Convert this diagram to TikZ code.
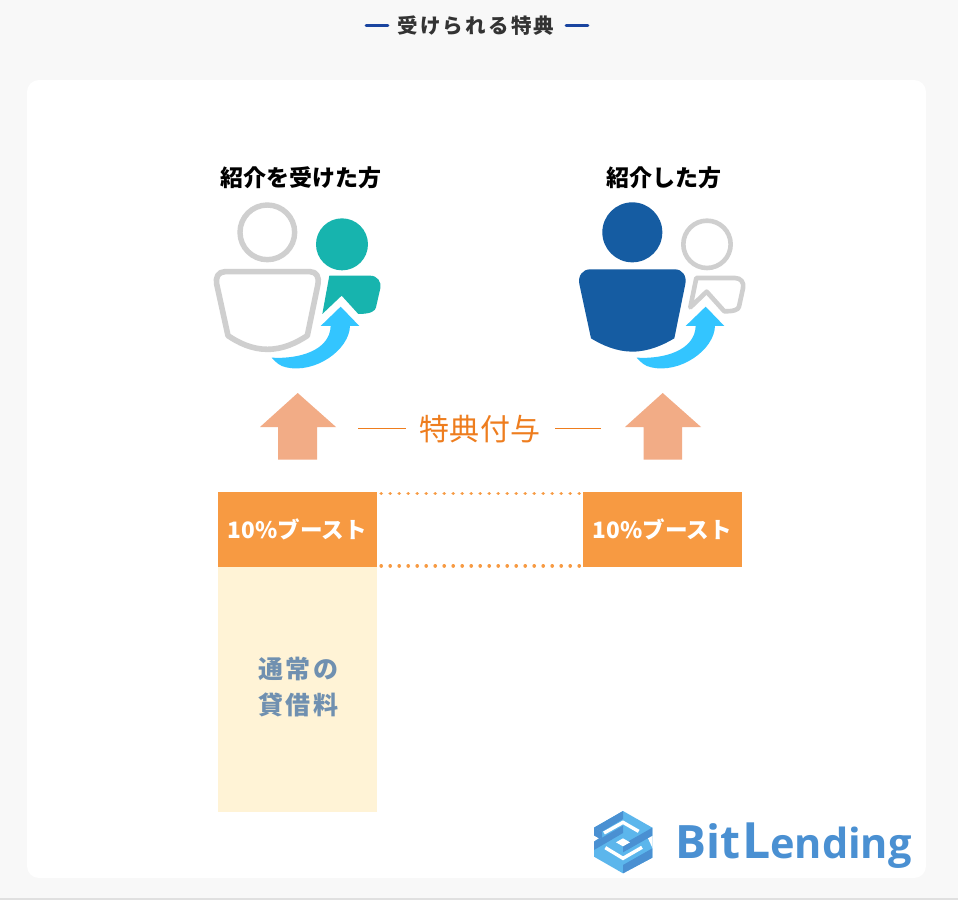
\documentclass[tikz,border=0pt]{standalone}
\usepackage{fontspec}
\setmainfont{Noto Sans CJK JP}
\newfontfamily\logofont{Open Sans}
\definecolor{pagebg}{HTML}{F8F8F8}
\definecolor{titlec}{HTML}{333333}
\definecolor{titleblue}{HTML}{1A45A0}
\definecolor{greyline}{HTML}{CFCFCF}
\definecolor{teal}{HTML}{17B4AE}
\definecolor{navy}{HTML}{155CA2}
\definecolor{sky}{HTML}{33C5FF}
\definecolor{peach}{HTML}{F2AC86}
\definecolor{orangetext}{HTML}{EE7D1E}
\definecolor{boost}{HTML}{F79A42}
\definecolor{cream}{HTML}{FFF3D6}
\definecolor{slate}{HTML}{7090B0}
\definecolor{logod}{HTML}{4A90D2}
\definecolor{logol}{HTML}{5CB6EC}
\tikzset{
  x=1pt,y=-1pt,
  lab/.style={inner sep=0pt,font=\bfseries\fontsize{23}{26}\selectfont,text=black},
  boostbox/.style={fill=boost,draw=none,inner sep=0pt,minimum width=159pt,minimum height=75pt,text=white,font=\bfseries\fontsize{22.6}{26}\selectfont},
  upper/.style={fill=peach,draw=none},
  dotline/.style={draw=boost,line width=3.6pt,line cap=round,dash pattern=on 0.01pt off 8.99pt},
  rule/.style={draw=orangetext,line width=0.8pt},
  ic/.style={x=0.3333pt,y=-0.3333pt},
}
\newcommand{\bodypath}{(75,245) -- (330,245) .. controls (350,245) and (358,262) .. (354,282) -- (322,437) .. controls (290,458) and (250,478) .. (202,478) .. controls (155,478) and (115,458) .. (84,437) -- (50,282) .. controls (46,262) and (55,245) .. (75,245) -- cycle}
\newcommand{\bodyfill}{(75,238) -- (330,238) .. controls (352,238) and (366,258) .. (361,282) -- (328,445) .. controls (295,465) and (250,485) .. (202,485) .. controls (155,485) and (110,465) .. (78,445) -- (43,282) .. controls (38,258) and (53,238) .. (75,238) -- cycle}
\newcommand{\smallfill}{(388,257) -- (510,257) .. controls (532,257) and (545,275) .. (541,295) -- (528,352) .. controls (526,362) and (515,372) .. (475,372) -- (425,317) -- (367,372) -- cycle}
\newcommand{\smallline}{(394,264) -- (510,264) .. controls (528,264) and (538,278) .. (534,295) -- (522,350) .. controls (520,360) and (505,364) .. (478,364) -- (425,305) -- (376,352) -- cycle}
\newcommand{\bluearrow}{(422,350) -- (478,408) -- (450,408) .. controls (448,480) and (345,552) .. (258,532) .. controls (240,528) and (228,518) .. (215,503) .. controls (300,508) and (390,480) .. (392,408) -- (362,408) -- cycle}
\begin{document}
\begin{tikzpicture}
\useasboundingbox (0,0) rectangle (958,900);
\fill[pagebg] (0,0) rectangle (958,900);
\fill[black!12] (0,898) rectangle (958,900);
\fill[white,rounded corners=12pt] (27,80) rectangle (926,878);
% title
\node[inner sep=0pt,text=titlec,font=\bfseries\fontsize{20.5}{24}\selectfont\addfontfeature{LetterSpace=11}] (title) at (476,26) {受けられる特典};
\coordinate (tl1) at (366,25.5); \coordinate (tl2) at (388,25.5);
\coordinate (tr1) at (566,25.5); \coordinate (tr2) at (588,25.5);
\draw[titleblue,line width=2.6pt,line cap=round] (tl1) -- (tl2);
\draw[titleblue,line width=2.6pt,line cap=round] (tr1) -- (tr2);
% labels
\node[lab] (lbl1) at (300.5,178) {紹介を受けた方};
\node[lab] (lbl2) at (663.5,178) {紹介した方};
% left icon
\begin{scope}[shift={(200,190)},ic]
  \draw[greyline,line width=5.4pt] (202,127) circle[radius=82];
  \draw[greyline,line width=5.6pt,line join=round] \bodypath;
  \fill[teal] (426,163) circle[radius=78];
  \fill[teal] \smallfill;
  \fill[sky] \bluearrow;
\end{scope}
% right icon
\begin{scope}[shift={(565,190)},ic]
  \fill[navy] (202,127) circle[radius=90];
  \fill[navy] \bodyfill;
  \draw[greyline,line width=4.6pt] (426,163) circle[radius=71];
  \draw[greyline,line width=4.6pt,line join=round] \smallline;
  \fill[sky] \bluearrow;
\end{scope}
% arrows
\fill[upper] (297.7,393) -- (336,427) -- (317,427) -- (317,459.5) -- (278,459.5) -- (278,427) -- (260,427) -- cycle;
\fill[upper] (662.7,393) -- (701,427) -- (682,427) -- (682,459.5) -- (643.5,459.5) -- (643.5,427) -- (625,427) -- cycle;
\node[inner sep=0pt,text=orangetext,font=\fontsize{30}{32}\selectfont\addfontfeature{LetterSpace=2}] (grant) at (480,429) {特典付与};
\coordinate (r1a) at (358,428.5); \coordinate (r1b) at (406,428.5);
\coordinate (r2a) at (555,428.5); \coordinate (r2b) at (601,428.5);
\draw[rule] (r1a) -- (r1b);
\draw[rule] (r2a) -- (r2b);
% bars
\node[fill=cream,inner sep=0pt,minimum width=159pt,minimum height=245pt,anchor=north west] (base) at (218,567) {};
\node[boostbox] (b1) at (297.5,529.5) {10\%ブースト};
\node[boostbox] (b2) at (662.5,529.5) {10\%ブースト};
\draw[dotline] (b1.north east) ++(4,1.5) -- ([xshift=-1pt,yshift=-1.5pt]b2.north west);
\draw[dotline] (b1.south east) ++(4,-1.5) -- ([xshift=-1pt,yshift=1.5pt]b2.south west);
\node[inner sep=0pt,text=slate,font=\bfseries\fontsize{25}{36}\selectfont\addfontfeature{LetterSpace=10},align=center] (rate) at (298,687) {通常の\\貸借料};
% logo
\begin{scope}[shift={(588,805)},x=0.3333pt,y=-0.3333pt]
  \fill[logol] (105,18) -- (193,68) -- (193,158) -- (105,205) -- (18,155) -- (18,68) -- cycle;
  \fill[logod] (105,18) -- (105,42) -- (42,80) -- (18,68) -- cycle;
  \fill[logod] (18,68) -- (42,80) -- (42,98) -- (18,112) -- cycle;
  \fill[logod] (18,112) -- (105,62) -- (105,84) -- (18,135) -- cycle;
  \fill[logod] (193,68) -- (193,92) -- (105,142) -- (105,118) -- cycle;
  \fill[logod] (105,180) -- (193,130) -- (193,158) -- (105,205) -- cycle;
  \draw[white,line width=3.4pt] (48,84) -- (105,52) -- (152,79);
  \draw[white,line width=3.4pt] (52,128) -- (105,160) -- (162,127);
  \fill[white] (84,112) -- (105,100) -- (126,112) -- (105,124) -- cycle;
  \fill[white] (18,92) -- (32,100) -- (18,109) -- cycle;
  \fill[white] (193,93) -- (180,100) -- (193,128) -- (193,110) -- cycle;
\end{scope}
\node[inner sep=0pt,anchor=base west,text=logod,font=\logofont\bfseries\fontsize{46}{50}\selectfont] (bit) at (675,858) {Bit};
\node[inner sep=0pt,anchor=base west,text=logod,font=\logofont\bfseries\fontsize{50}{50}\selectfont] (ell) at (742,858) {L};
\node[inner sep=0pt,anchor=base west,text=logod,font=\logofont\bfseries\fontsize{41.5}{50}\selectfont] (end) at (770,858) {ending};
\end{tikzpicture}
\end{document}
